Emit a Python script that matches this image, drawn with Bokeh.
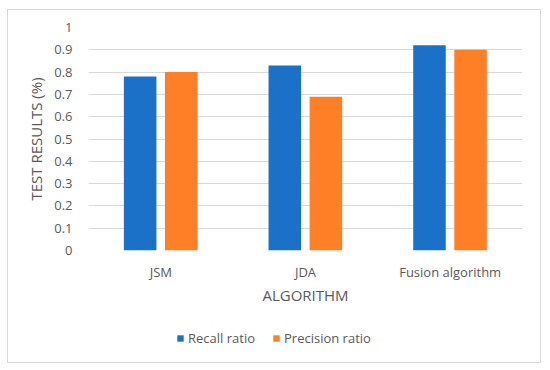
from bokeh.plotting import figure
from bokeh.models import (ColumnDataSource, FactorRange, Range1d, FixedTicker,
                          NumeralTickFormatter, Legend, LegendItem)
from bokeh.layouts import column
from bokeh.transform import dodge
from bokeh.embed import file_html
from bokeh.resources import INLINE

categories = ["JSM", "JDA", "Fusion algorithm"]
recall = [0.78, 0.83, 0.92]
precision = [0.80, 0.69, 0.90]
y_ticks = [0, 0.1, 0.2, 0.3, 0.4, 0.5, 0.6, 0.7, 0.8, 0.9, 1.0]
series_names = ["Recall ratio", "Precision ratio"]
colors = ["#1B71C8", "#FF7F27"]

FONT = "Open Sans"
TXT = "#595959"

src = ColumnDataSource(dict(cat=categories, recall=recall, precision=precision))

p = figure(x_range=FactorRange(*categories, range_padding=0),
           y_range=Range1d(0, 1),
           width=532, height=301,
           output_backend="svg", toolbar_location=None,
           min_border_left=80, min_border_right=18,
           min_border_top=17, min_border_bottom=61)
p.outline_line_color = None

r1 = p.vbar(x=dodge("cat", -0.143, range=p.x_range), top="recall", width=0.225,
            source=src, fill_color=colors[0], line_color=None)
r2 = p.vbar(x=dodge("cat", 0.141, range=p.x_range), top="precision", width=0.225,
            source=src, fill_color=colors[1], line_color=None)

p.xgrid.grid_line_color = None
p.ygrid.grid_line_color = "#D9D9D9"
p.ygrid.grid_line_width = 1
p.yaxis.ticker = FixedTicker(ticks=y_ticks)
p.yaxis.formatter = NumeralTickFormatter(format="0.[0]")

for ax in (p.xaxis[0], p.yaxis[0]):
    ax.axis_line_color = None
    ax.major_tick_line_color = None
    ax.minor_tick_line_color = None
    ax.major_label_text_font = FONT
    ax.major_label_text_font_size = "13px"
    ax.major_label_text_color = TXT
    ax.axis_label_text_font = FONT
    ax.axis_label_text_font_size = "15px"
    ax.axis_label_text_font_style = "normal"
    ax.axis_label_text_color = TXT

p.xaxis.axis_label = "ALGORITHM"
p.yaxis.axis_label = "TEST RESULTS (%)"
p.xaxis.major_label_standoff = 6
p.xaxis.axis_label_standoff = 1
p.yaxis.major_label_standoff = 10
p.yaxis.axis_label_standoff = 5

# legend strip (separate figure, bars kept out of its visible range)
p2 = figure(x_range=FactorRange(*categories, range_padding=0),
            y_range=Range1d(10, 11),
            width=532, height=51,
            output_backend="svg", toolbar_location=None,
            min_border=0, x_axis_location=None, y_axis_location=None)
p2.outline_line_color = None
p2.grid.visible = False
l1 = p2.vbar(x="cat", top="recall", width=0.225, source=src,
             fill_color=colors[0], line_color=None)
l2 = p2.vbar(x="cat", top="precision", width=0.225, source=src,
             fill_color=colors[1], line_color=None)

legend = Legend(items=[LegendItem(label=series_names[0], renderers=[l1]),
                       LegendItem(label=series_names[1], renderers=[l2])],
                orientation="horizontal", location=(88, 14),
                glyph_width=8, glyph_height=8, label_standoff=4, spacing=17,
                label_height=20,
                label_text_font=FONT, label_text_font_size="13px",
                label_text_color=TXT, border_line_color=None,
                background_fill_alpha=0, padding=0, margin=0)
p2.add_layout(legend, "center")

layout = column(p, p2, spacing=0,
                styles={"border": "1px solid #D9D9D9", "margin-left": "7px",
                        "margin-top": "9px"})

open("out.html", "w").write(file_html(layout, INLINE))
